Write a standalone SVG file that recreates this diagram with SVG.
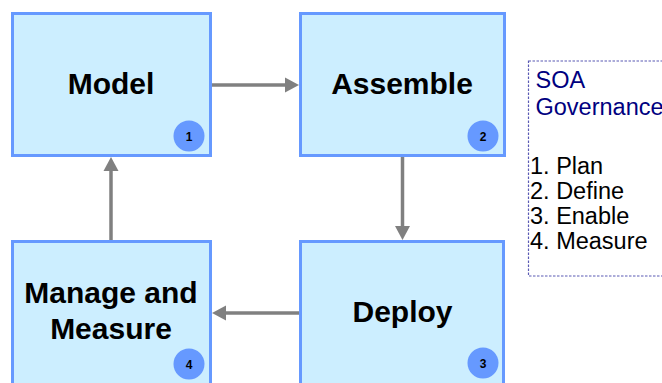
<svg xmlns="http://www.w3.org/2000/svg" width="662" height="383" viewBox="0 0 662 383">
  <defs>
    <style>
      .box { fill: #cceeff; stroke: #6699ff; stroke-width: 3; }
      .title { font-family: "Liberation Sans", Arial, sans-serif; font-weight: bold; font-size: 30px; fill: #000; text-anchor: middle; }
      .badge { fill: #6699ff; }
      .num { font-family: "Liberation Sans", Arial, sans-serif; font-weight: bold; font-size: 12px; fill: #000; text-anchor: middle; }
      .link { stroke: #808080; stroke-width: 3.5; fill: none; }
      .head { fill: #808080; }
      .legend-frame { fill: none; stroke: #5a5ab4; stroke-width: 1.2; stroke-dasharray: 2.5 1.5; }
      .legend { font-family: "Liberation Sans", Arial, sans-serif; font-size: 23.5px; }
    </style>
  </defs>

  <!-- Process steps -->
  <g id="model">
    <rect class="box" x="12.5" y="13.5" width="198" height="142"/>
    <text class="title" x="111" y="94">Model</text>
    <circle class="badge" cx="189" cy="136" r="15.5"/>
    <text class="num" x="189" y="140.5">1</text>
  </g>

  <g id="assemble">
    <rect class="box" x="300.5" y="13.5" width="204" height="142"/>
    <text class="title" x="402" y="93.5">Assemble</text>
    <circle class="badge" cx="483" cy="136" r="15.5"/>
    <text class="num" x="483" y="140.5">2</text>
  </g>

  <g id="deploy">
    <rect class="box" x="300.5" y="241.5" width="203" height="160"/>
    <text class="title" x="402.5" y="321.5">Deploy</text>
    <circle class="badge" cx="483" cy="363" r="15.5"/>
    <text class="num" x="483" y="367.5">3</text>
  </g>

  <g id="manage">
    <rect class="box" x="12.5" y="241.5" width="198" height="160"/>
    <text class="title" x="111" y="302.5">Manage and</text>
    <text class="title" x="111" y="339">Measure</text>
    <circle class="badge" cx="189" cy="364" r="15.5"/>
    <text class="num" x="189" y="368.5">4</text>
  </g>

  <!-- Cycle connectors -->
  <g id="connectors">
    <line class="link" x1="212" y1="85" x2="287" y2="85"/>
    <polygon class="head" points="299,85 285,77.5 285,92.5"/>

    <line class="link" x1="402.5" y1="157" x2="402.5" y2="228"/>
    <polygon class="head" points="402.5,240 395,226 410,226"/>

    <line class="link" x1="299" y1="313" x2="224" y2="313"/>
    <polygon class="head" points="212,313 226,305.5 226,320.5"/>

    <line class="link" x1="111" y1="240" x2="111" y2="169"/>
    <polygon class="head" points="111,157 103.5,171 118.5,171"/>
  </g>

  <!-- Governance legend -->
  <g id="governance">
    <rect class="legend-frame" x="528.5" y="61" width="150" height="215"/>
    <text class="legend" fill="#000080" x="535.5" y="88">SOA</text>
    <text class="legend" fill="#000080" x="535.5" y="115">Governance</text>
    <text class="legend" fill="#000" x="530" y="174">1. Plan</text>
    <text class="legend" fill="#000" x="530" y="199">2. Define</text>
    <text class="legend" fill="#000" x="530" y="224">3. Enable</text>
    <text class="legend" fill="#000" x="530" y="249">4. Measure</text>
  </g>
</svg>
